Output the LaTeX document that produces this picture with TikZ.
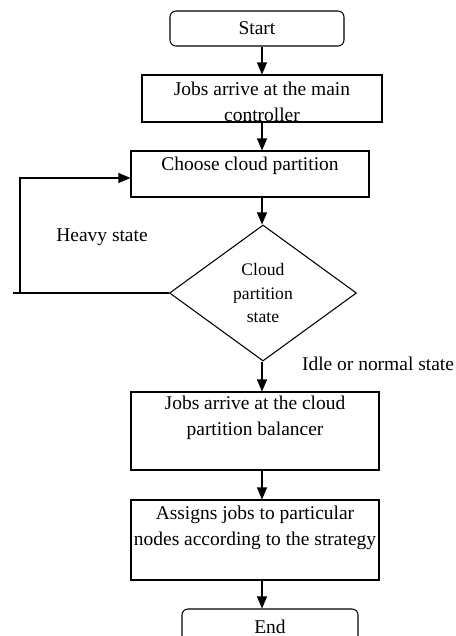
\documentclass[tikz,border=0pt]{standalone}
\usepackage{fontspec}
\setmainfont{Liberation Serif}
\usetikzlibrary{positioning,shapes.geometric,arrows.meta}

\tikzset{
  box/.style={draw, line width=0.8pt, inner sep=0pt},
  term/.style={box, rounded corners=4.5pt, font=\fontsize{14.6}{19.5}\selectfont},
  txt/.style={inner sep=0.75pt, align=center, font=\fontsize{14.6}{19.5}\selectfont},
  arr/.style={line width=0.8pt, -{Triangle[length=9pt,width=7.5pt]}},
}

\begin{document}
\begin{tikzpicture}[x=0.75pt,y=0.75pt,yscale=-1,xscale=1]
\useasboundingbox (0,0) rectangle (456,636);

%Terminals
\node [term, minimum width=130.5pt, minimum height=26.25pt] (start) at (257,28.5) {Start};
\node [term, minimum width=132pt, minimum height=26.25pt] (end) at (270,626.5) {End};

%Process boxes
\node [box, minimum width=180pt, minimum height=35.25pt] (ctrl) at (262,98.5) {};
\node [box, minimum width=178.5pt, minimum height=34.5pt] (choose) at (250,174) {};
\node [box, minimum width=186pt, minimum height=58.5pt] (bal) at (255,431) {};
\node [box, minimum width=186pt, minimum height=60pt] (assign) at (255,540) {};

%Decision
\node [box, diamond, minimum width=140.25pt, minimum height=102pt, align=center,
       font=\fontsize{13.2}{17.6}\selectfont] (state) at (263,293) {Cloud\\partition\\state};

% Text Node
\node [txt] (ctrltxt) at (262,102) {Jobs arrive at the main\\controller};
% Text Node
\node [txt] (choosetxt) at (250,166) {Choose cloud partition};
% Text Node
\node [txt] (baltxt) at (255,418) {Jobs arrive at the cloud\\partition balancer};
% Text Node
\node [txt] (assigntxt) at (255,528) {Assigns jobs to particular\\nodes according to the strategy};
% Text Node
\node [txt] (heavy) at (102,237) {Heavy state};
% Text Node
\node [txt] (idle) at (378,364) {Idle or normal state};

%Connectors
\coordinate (spine) at (262,0);
\draw [arr] (start.south -| spine) -- (ctrl.north -| spine);
\draw [arr] (ctrl.south -| spine) -- (choose.north -| spine);
\draw [arr] (choose.south -| spine) -- (state.north -| spine);
\draw [arr] (state.south -| spine) -- (bal.north -| spine);
\draw [arr] (bal.south -| spine) -- (assign.north -| spine);
\draw [arr] (assign.south -| spine) -- (end.north -| spine);

%Heavy state loop
\coordinate (stub) at (13,0);
\coordinate (corner) at (20,0);
\coordinate (loopin) at (131,178);
\draw [line width=0.8pt] (state.west) -- (state.west -| stub);
\draw [arr] (state.west -| corner) |- (choose.west |- loopin);
\end{tikzpicture}
\end{document}
